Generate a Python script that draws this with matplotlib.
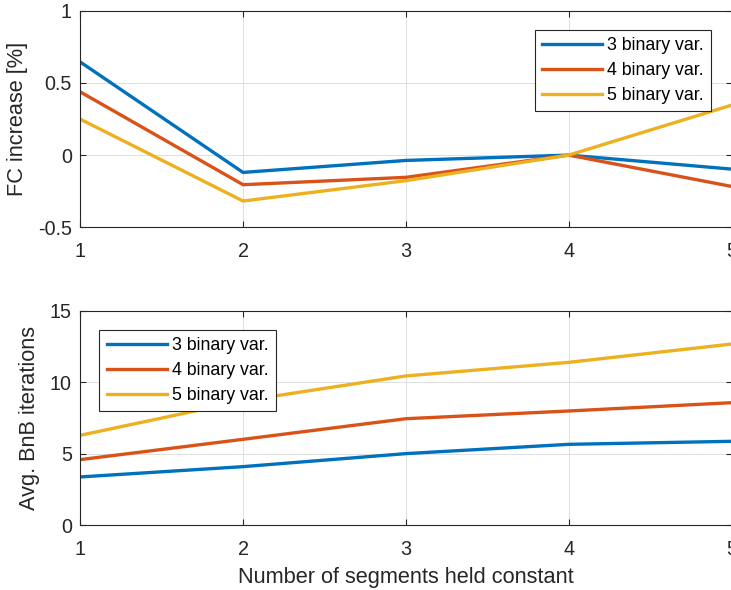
import matplotlib
matplotlib.use("Agg")
import matplotlib.pyplot as plt

# Segments held constant
segments = [1, 2, 3, 4, 5]
series_labels = ["3 binary var.", "4 binary var.", "5 binary var."]

# FC increase [%]
fc_3bin = [0.645, -0.12, -0.037, 0.0, -0.097]
fc_4bin = [0.438, -0.205, -0.154, 0.0, -0.217]
fc_5bin = [0.249, -0.318, -0.177, 0.0, 0.346]

# Average branch-and-bound iterations
bnb_3bin = [3.38, 4.10, 5.01, 5.66, 5.87]
bnb_4bin = [4.59, 6.01, 7.45, 7.99, 8.57]
bnb_5bin = [6.29, 8.70, 10.44, 11.39, 12.67]

fc_ticks = [-0.5, 0, 0.5, 1]
fc_ticklabels = ["-0.5", "0", "0.5", "1"]
bnb_ticks = [0, 5, 10, 15]
bnb_ticklabels = ["0", "5", "10", "15"]
x_ticklabels = ["1", "2", "3", "4", "5"]

colors = ["#0072BD", "#D95319", "#EDB120"]
axis_color = "#262626"
grid_color = "#dfdfdf"

plt.rcParams["font.family"] = ["Liberation Sans", "DejaVu Sans"]

W, H = 731, 590
fig = plt.figure(figsize=(W / 100, H / 100), dpi=100)


def px_axes(left, top, right, bottom):
    return fig.add_axes([left / W, 1 - bottom / H, (right - left) / W, (bottom - top) / H])


ax1 = px_axes(80.2, 10.7, 731.6, 227.3)
ax2 = px_axes(80.2, 310.7, 731.6, 525.3)


def style(ax, yticks, yticklabels, ylim, ylabel):
    ax.set_xlim(1, 5)
    ax.set_ylim(*ylim)
    ax.set_xticks(segments)
    ax.set_xticklabels(x_ticklabels)
    ax.set_yticks(yticks)
    ax.set_yticklabels(yticklabels)
    ax.grid(True, color=grid_color, linewidth=0.7)
    ax.set_axisbelow(True)
    for s in ax.spines.values():
        s.set_color(axis_color)
        s.set_linewidth(0.8)
    ax.tick_params(axis="both", direction="in", length=4.5, width=0.8,
                   color=axis_color, labelcolor=axis_color, labelsize=14.2,
                   top=True, right=True)
    ax.tick_params(axis="x", pad=10.5)
    ax.tick_params(axis="y", pad=6.0)
    ax.set_ylabel(ylabel, fontsize=15.7, color=axis_color, labelpad=7)


def add_legend(ax, handles, x_px, y_px):
    leg = ax.legend(handles, series_labels, loc="upper left",
                    bbox_to_anchor=(x_px / W, 1 - y_px / H),
                    bbox_transform=fig.transFigure, borderaxespad=0,
                    fontsize=12.8, handlelength=3.37, handletextpad=0.28,
                    borderpad=0.42, labelspacing=0.43, fancybox=False,
                    framealpha=1, edgecolor=axis_color)
    leg.get_frame().set_linewidth(0.8)
    for t in leg.get_texts():
        t.set_color("#000000")
    return leg


lw = 2.4
h1 = []
for ys, c in zip([fc_3bin, fc_4bin, fc_5bin], colors):
    (ln,) = ax1.plot(segments, ys, color=c, linewidth=lw, solid_joinstyle="round")
    h1.append(ln)
style(ax1, fc_ticks, fc_ticklabels, (-0.5, 1), "FC increase [%]")
add_legend(ax1, h1, 535, 30)

h2 = []
for ys, c in zip([bnb_3bin, bnb_4bin, bnb_5bin], colors):
    (ln,) = ax2.plot(segments, ys, color=c, linewidth=lw, solid_joinstyle="round")
    h2.append(ln)
style(ax2, bnb_ticks, bnb_ticklabels, (0, 15), "Avg. BnB iterations")
ax2.set_xlabel("Number of segments held constant", fontsize=15.7,
               color=axis_color, labelpad=5.8)
add_legend(ax2, h2, 99.3, 330)

fig.savefig("out.png", dpi=100)
